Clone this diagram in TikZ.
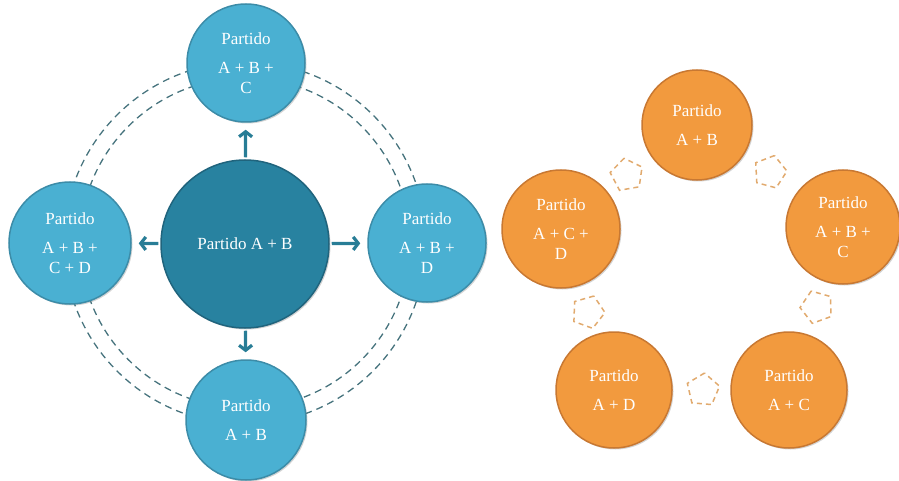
\documentclass[tikz,border=0pt]{standalone}
\usepackage{fontspec}
\setmainfont{Liberation Serif}
\usetikzlibrary{shapes.geometric,arrows.meta,shadows}
\definecolor{lblue}{RGB}{74,176,210}
\definecolor{lblueedge}{RGB}{60,140,168}
\definecolor{dblue}{RGB}{40,130,160}
\definecolor{dblueedge}{RGB}{32,100,125}
\definecolor{dashc}{RGB}{70,115,125}
\definecolor{arrc}{RGB}{40,125,150}
\definecolor{orng}{RGB}{242,154,62}
\definecolor{orngedge}{RGB}{200,120,50}
\definecolor{pentc}{RGB}{225,170,110}
\tikzset{
  sat/.style={circle, fill=lblue, draw=lblueedge, line width=1.5pt, text=white,
    align=center, inner sep=0pt, font=\fontsize{17}{20}\selectfont,
    drop shadow={shadow xshift=1.5pt, shadow yshift=-1.5pt, opacity=0.35}},
  hub/.style={circle, fill=dblue, draw=dblueedge, line width=1.5pt, text=white,
    align=center, inner sep=0pt, font=\fontsize{17}{20}\selectfont,
    drop shadow={shadow xshift=1.5pt, shadow yshift=-1.5pt, opacity=0.35}},
  orb/.style={circle, fill=orng, draw=orngedge, line width=1.5pt, text=white,
    align=center, inner sep=0pt, font=\fontsize{17}{20}\selectfont,
    drop shadow={shadow xshift=1.5pt, shadow yshift=-1.5pt, opacity=0.35}},
  ring/.style={draw=dashc, line width=1.3pt, dash pattern=on 7pt off 5pt},
  arr/.style={draw=arrc, line width=3.2pt, -{Straight Barb[length=5pt,width=13pt]},
    shorten <=2pt, shorten >=7pt},
  pent/.style={regular polygon, regular polygon sides=5, minimum size=34pt,
    draw=pentc, line width=1.5pt, dash pattern=on 5pt off 4pt, inner sep=0pt}
}
\begin{document}
\begin{tikzpicture}[x=1pt,y=-1pt]
\useasboundingbox (0,0) rectangle (899,481);
% left diagram
\coordinate (o) at (245,243);
\draw[ring] (o) circle (165);
\draw[ring] (o) circle (181);
\node[hub, minimum size=168pt] (c) at (245,244) {Partido A + B};
\node[sat, minimum size=118pt] (t) at (246,63) {Partido\\[9pt]A + B +\\C};
\node[sat, minimum size=122pt] (l) at (70,243) {Partido\\[9pt]A + B +\\C + D};
\node[sat, minimum size=118pt] (r) at (427,243) {Partido\\[9pt]A + B +\\D};
\node[sat, minimum size=120pt] (b) at (246,420) {Partido\\[9pt]A + B};
\draw[arr] (c) -- (t);
\draw[arr] (c) -- (l);
\draw[arr] (c) -- (r);
\draw[arr] (c) -- (b);
% right diagram
\node[orb, minimum size=110pt] (p1) at (697,125) {Partido\\[9pt]A + B};
\node[orb, minimum size=114pt] (p2) at (843,227) {Partido\\[9pt]A + B +\\C};
\node[orb, minimum size=116pt] (p3) at (789,390) {Partido\\[9pt]A + C};
\node[orb, minimum size=116pt] (p4) at (614,390) {Partido\\[9pt]A + D};
\node[orb, minimum size=118pt] (p5) at (561,229) {Partido\\[9pt]A + C +\\D};
\node[pent, rotate=10] (k1) at (627,175) {};
\node[pent, rotate=-15] (k2) at (770,172) {};
\node[pent, rotate=20] (k3) at (817,307) {};
\node[pent, rotate=-5] (k4) at (703,390) {};
\node[pent, rotate=-20] (k5) at (588,312) {};
\end{tikzpicture}
\end{document}
